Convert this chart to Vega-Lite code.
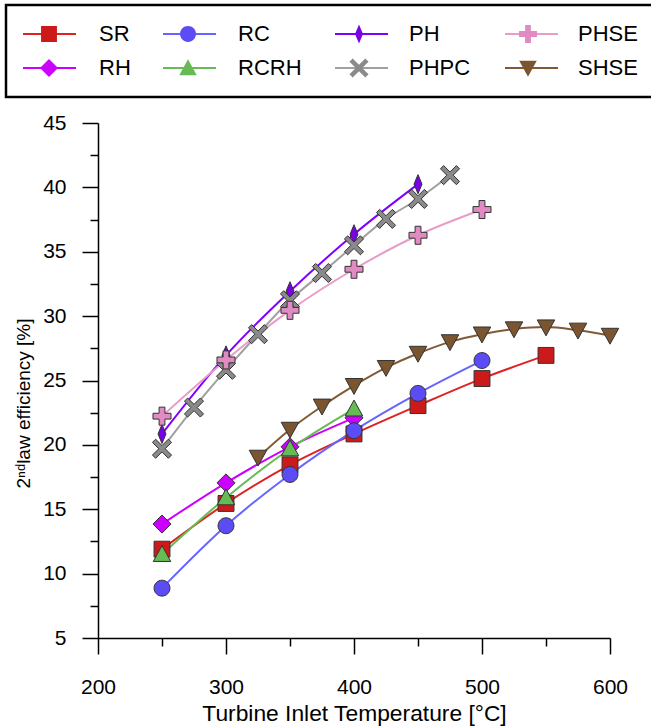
{
  "$schema": "https://vega.github.io/schema/vega-lite/v6.json",
  "width": 512,
  "height": 515,
  "autosize": {"type": "none"},
  "padding": {"left": 98, "top": 123, "right": 41, "bottom": 89},
  "background": "white",
  "config": {"view": {"stroke": null}, "font": "Liberation Sans"},
  "data": {"values": [
    {"series": "SR", "T": 250, "eff": 11.9},
    {"series": "SR", "T": 300, "eff": 15.45},
    {"series": "SR", "T": 350, "eff": 18.45},
    {"series": "SR", "T": 400, "eff": 20.85},
    {"series": "SR", "T": 450, "eff": 23.05},
    {"series": "SR", "T": 500, "eff": 25.15},
    {"series": "SR", "T": 550, "eff": 26.95},
    {"series": "RH", "T": 250, "eff": 13.85},
    {"series": "RH", "T": 300, "eff": 17.05},
    {"series": "RH", "T": 350, "eff": 19.85},
    {"series": "RH", "T": 400, "eff": 22.1},
    {"series": "RC", "T": 250, "eff": 8.87},
    {"series": "RC", "T": 300, "eff": 13.72},
    {"series": "RC", "T": 350, "eff": 17.7},
    {"series": "RC", "T": 400, "eff": 21.1},
    {"series": "RC", "T": 450, "eff": 24.0},
    {"series": "RC", "T": 500, "eff": 26.55},
    {"series": "RCRH", "T": 250, "eff": 11.5},
    {"series": "RCRH", "T": 300, "eff": 15.9},
    {"series": "RCRH", "T": 350, "eff": 19.7},
    {"series": "RCRH", "T": 400, "eff": 22.8},
    {"series": "PH", "T": 250, "eff": 20.85},
    {"series": "PH", "T": 300, "eff": 26.95},
    {"series": "PH", "T": 350, "eff": 31.93},
    {"series": "PH", "T": 400, "eff": 36.36},
    {"series": "PH", "T": 450, "eff": 40.25},
    {"series": "PHPC", "T": 250, "eff": 19.7},
    {"series": "PHPC", "T": 275, "eff": 22.9},
    {"series": "PHPC", "T": 300, "eff": 25.83},
    {"series": "PHPC", "T": 325, "eff": 28.6},
    {"series": "PHPC", "T": 350, "eff": 31.23},
    {"series": "PHPC", "T": 375, "eff": 33.35},
    {"series": "PHPC", "T": 400, "eff": 35.5},
    {"series": "PHPC", "T": 425, "eff": 37.55},
    {"series": "PHPC", "T": 450, "eff": 39.1},
    {"series": "PHPC", "T": 475, "eff": 40.95},
    {"series": "PHSE", "T": 250, "eff": 22.23},
    {"series": "PHSE", "T": 300, "eff": 26.6},
    {"series": "PHSE", "T": 350, "eff": 30.45},
    {"series": "PHSE", "T": 400, "eff": 33.64},
    {"series": "PHSE", "T": 450, "eff": 36.28},
    {"series": "PHSE", "T": 500, "eff": 38.28},
    {"series": "SHSE", "T": 325, "eff": 19.03},
    {"series": "SHSE", "T": 350, "eff": 21.2},
    {"series": "SHSE", "T": 375, "eff": 23.0},
    {"series": "SHSE", "T": 400, "eff": 24.6},
    {"series": "SHSE", "T": 425, "eff": 26.0},
    {"series": "SHSE", "T": 450, "eff": 27.1},
    {"series": "SHSE", "T": 475, "eff": 28.0},
    {"series": "SHSE", "T": 500, "eff": 28.6},
    {"series": "SHSE", "T": 525, "eff": 29.0},
    {"series": "SHSE", "T": 550, "eff": 29.15},
    {"series": "SHSE", "T": 575, "eff": 28.9},
    {"series": "SHSE", "T": 600, "eff": 28.5}
  ]},
  "encoding": {
    "x": {
      "field": "T", "type": "quantitative",
      "scale": {"domain": [200, 600], "nice": false, "zero": false},
      "axis": {
        "values": [200, 250, 300, 350, 400, 450, 500, 550, 600],
        "title": "Turbine Inlet Temperature [°C]",
        "grid": false,
        "domainColor": "black", "domainWidth": 1.5,
        "tickColor": "black", "tickWidth": 1.5,
        "tickSize": {"condition": {"test": "datum.value % 100 === 0", "value": 16}, "value": 8},
        "labelExpr": "datum.value % 100 === 0 ? datum.label : ''",
        "labelFontSize": 21, "labelColor": "black", "labelPadding": 22,
        "labelFlush": false, "labelOverlap": false, "labelBound": false,
        "titleFontSize": 22.8, "titleFontWeight": "normal", "titleColor": "black",
        "titleX": 256, "titleY": 75, "titleBaseline": "middle", "titleAlign": "center"
      }
    },
    "y": {
      "field": "eff", "type": "quantitative",
      "scale": {"domain": [5, 45], "nice": false, "zero": false},
      "axis": {
        "values": [5, 7.5, 10, 12.5, 15, 17.5, 20, 22.5, 25, 27.5, 30, 32.5, 35, 37.5, 40, 42.5, 45],
        "title": "2ⁿᵈlaw efficiency [%]",
        "grid": false,
        "domainColor": "black", "domainWidth": 1.5,
        "tickColor": "black", "tickWidth": 1.5,
        "tickSize": {"condition": {"test": "datum.value % 5 === 0", "value": 16}, "value": 8},
        "labelExpr": "datum.value % 5 === 0 ? datum.label : ''",
        "labelFontSize": 21, "labelColor": "black", "labelPadding": 16,
        "labelFlush": false, "labelOverlap": false, "labelBound": false,
        "titleFontSize": 19, "titleFontWeight": "normal", "titleColor": "black",
        "titleAngle": -90, "titleX": -75, "titleY": 280, "titleBaseline": "middle", "titleAlign": "center"
      }
    }
  },
  "layer": [
    {
      "mark": {"type": "line", "interpolate": "monotone", "strokeWidth": 2},
      "encoding": {
        "stroke": {
          "field": "series", "type": "nominal",
          "scale": {
            "domain": ["SR", "RH", "RC", "RCRH", "PH", "PHPC", "PHSE", "SHSE"],
            "range": ["#dd2222", "#cc00ff", "#6666ff", "#66bb55", "#8000ff", "#a0a0a0", "#e89cc8", "#7f5a35"]
          },
          "legend": {
            "title": null,
            "orient": "none", "legendX": -92, "legendY": -118,
            "columns": 4, "columnPadding": 30, "rowPadding": 8,
            "clipHeight": 26, "padding": 16,
            "symbolType": "stroke", "symbolSize": 2809, "symbolStrokeWidth": 2,
            "labelFontSize": 22, "labelColor": "black", "labelOffset": 23, "labelOpacity": 0,
            "strokeColor": "black", "fillColor": "white",
            "zindex": 0,
            "encode": {"legend": {"update": {"strokeWidth": {"value": 2.5}}}}
          }
        }
      }
    },
    {
      "mark": {"type": "point", "filled": true, "size": 2809, "stroke": "#333333", "strokeWidth": 1, "opacity": 1},
      "encoding": {
        "fill": {
          "field": "series", "type": "nominal",
          "sort": null,
          "scale": {"range": ["#cc1a1a", "#cc00ff", "#5b4cf5", "#66bb55", "#7a00e6", "#8a8a8a", "#e08cc2", "#7a5530"]},
          "legend": {
            "title": null,
            "orient": "none", "legendX": -92, "legendY": -118,
            "columns": 4, "columnPadding": 30, "rowPadding": 8,
            "clipHeight": 26, "padding": 16,
            "symbolSize": 2809, "symbolStrokeColor": "#333333", "symbolStrokeWidth": 1, "symbolOpacity": 1,
            "labelFontSize": 22, "labelColor": "black", "labelOffset": 23,
            "zindex": 1
          }
        },
        "shape": {
          "field": "series", "type": "nominal",
          "sort": null,
          "scale": {"range": [
            "M-0.3,-0.3H0.3V0.3H-0.3Z",
            "M0,-0.34L0.34,0L0,0.34L-0.34,0Z",
            "M-0.3,0A0.3,0.3,0,1,0,0.3,0A0.3,0.3,0,1,0,-0.3,0Z",
            "M0,-0.33L0.33,0.27H-0.33Z",
            "M0,-0.36L0.15,0L0,0.36L-0.15,0Z",
            "M-0.36,-0.24L-0.24,-0.36L0,-0.12L0.24,-0.36L0.36,-0.24L0.12,0L0.36,0.24L0.24,0.36L0,0.12L-0.24,0.36L-0.36,0.24L-0.12,0Z",
            "M-0.11,-0.34H0.11V-0.11H0.34V0.11H0.11V0.34H-0.11V0.11H-0.34V-0.11H-0.11Z",
            "M-0.33,-0.27H0.33L0,0.33Z"
          ]},
          "legend": {
            "title": null,
            "orient": "none", "legendX": -92, "legendY": -118,
            "columns": 4, "columnPadding": 30, "rowPadding": 8,
            "clipHeight": 26, "padding": 16,
            "symbolSize": 2809, "symbolStrokeColor": "#333333", "symbolStrokeWidth": 1, "symbolOpacity": 1,
            "labelFontSize": 22, "labelColor": "black", "labelOffset": 23,
            "zindex": 1
          }
        }
      }
    }
  ]
}
